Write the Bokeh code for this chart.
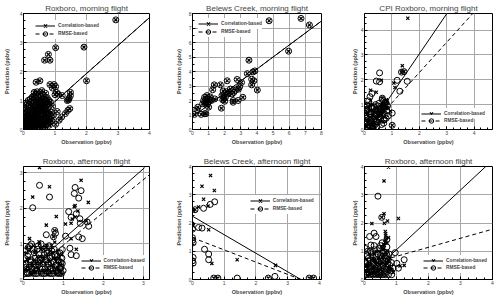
from bokeh.plotting import figure
from bokeh.layouts import column, row
from bokeh.models import Range1d, FixedTicker, Legend, LegendItem
from bokeh.embed import file_html
from bokeh.resources import INLINE

FONT = "Liberation Sans"

titles = ["Roxboro, morning flight", "Belews Creek, morning flight", "CPI Roxboro, morning flight",
          "Roxboro, afternoon flight", "Belews Creek, afternoon flight", "Roxboro, afternoon flight"]
x_label = "Observation (ppbv)"
y_label = "Prediction (ppbv)"
legend_labels = ["Correlation-based", "RMSE-based"]

# ---------- Panel 1: Roxboro, morning (both predictions coincide) ----------
p1_obs = [2.93, 1.02, 1.92, 0.79, 0.67, 0.84, 2.0, 0.40, 0.52, 0.97, 1.02, 0.92, 0.84, 1.49, 1.49, 1.45,
          1.39, 1.43, 1.23, 0.34, 0.58, 0.70, 0.62, 1.07, 1.41, 1.47, 1.33, 1.21, 1.13, 1.02, 1.05, 1.0, 1.10,
          0.02, 0.05, 0.08, 0.10, 0.12, 0.15, 0.18, 0.20, 0.22, 0.25, 0.28, 0.30, 0.32, 0.35, 0.38, 0.40,
          0.42, 0.45, 0.48, 0.50, 0.52, 0.55, 0.58, 0.60, 0.62, 0.65, 0.68, 0.70, 0.72, 0.75, 0.78, 0.80,
          0.82, 0.85, 0.88, 0.90, 0.05, 0.08, 0.10, 0.13, 0.16, 0.20, 0.24, 0.27, 0.33, 0.36, 0.40, 0.45,
          0.47, 0.53, 0.57, 0.63, 0.67, 0.73, 0.76, 0.12, 0.18, 0.25, 0.35, 0.42, 0.50, 0.55, 0.60, 0.70,
          0.03, 0.06, 0.15, 0.30, 0.38, 0.45, 0.60, 0.78, 0.85, 0.92, 0.95]
p1_pred = [3.78, 2.82, 2.84, 2.59, 2.39, 2.39, 1.68, 1.63, 1.68, 1.55, 1.48, 1.43, 1.55, 1.28, 1.17, 1.08,
           1.00, 1.02, 1.17, 1.28, 1.34, 1.25, 1.18, 0.62, 0.66, 0.72, 0.55, 0.43, 0.32, 0.18, 1.28, 1.20, 1.22,
           0.05, 0.12, 0.20, 0.08, 0.30, 0.15, 0.45, 0.10, 0.25, 0.60, 0.35, 0.12, 0.80, 0.50, 0.20, 0.95,
           0.65, 0.30, 0.10, 0.85, 0.50, 0.20, 1.05, 0.70, 0.35, 0.12, 0.90, 0.55, 0.25, 1.10, 0.75, 0.40,
           0.15, 0.95, 0.60, 0.30, 0.40, 0.70, 0.55, 0.90, 0.62, 0.75, 0.95, 0.15, 0.05, 0.30, 0.45, 0.72,
           1.00, 0.30, 0.80, 0.55, 0.30, 0.85, 0.50, 0.10, 0.05, 0.10, 0.08, 0.15, 0.05, 0.65, 0.95, 1.00,
           0.25, 0.85, 1.00, 1.10, 1.20, 1.15, 0.15, 0.20, 0.35, 0.80, 0.50]
p1_extra = [(0.01, 0.15), (0.04, 0.35), (0.07, 0.05), (0.09, 0.6), (0.11, 0.18), (0.14, 0.4), (0.17, 0.25),
            (0.19, 0.85), (0.21, 0.55), (0.23, 0.12), (0.26, 0.4), (0.29, 0.7), (0.31, 0.22), (0.34, 0.95),
            (0.37, 0.45), (0.39, 0.1), (0.41, 0.75), (0.44, 0.2), (0.46, 0.55), (0.49, 0.35), (0.51, 1.0),
            (0.54, 0.15), (0.56, 0.45), (0.59, 0.7), (0.61, 0.05), (0.64, 0.85), (0.66, 0.25), (0.69, 0.65),
            (0.71, 0.4), (0.74, 0.2), (0.77, 0.9), (0.79, 0.55), (0.81, 1.0), (0.84, 0.25), (0.87, 0.45),
            (0.02, 0.5), (0.06, 0.1), (0.11, 0.28), (0.16, 0.08), (0.21, 0.38), (0.26, 0.8), (0.31, 0.6),
            (0.36, 0.1), (0.41, 0.3), (0.46, 0.9), (0.51, 0.65), (0.56, 0.3), (0.61, 0.5), (0.66, 1.05),
            (0.71, 0.15), (0.04, 0.65), (0.14, 0.3), (0.24, 0.5), (0.34, 0.65), (0.44, 0.05), (0.54, 0.85),
            (0.64, 0.75), (0.74, 0.6), (0.28, 1.12), (0.43, 1.3), (0.5, 1.22), (0.22, 1.05)]
p1_corr_line_x = [0.0, 4.0]
p1_corr_line_y = [0.0, 3.86]
p1_rmse_line_x = [0.0, 4.0]
p1_rmse_line_y = [0.0, 3.86]

# ---------- Panel 2: Belews Creek, morning (both predictions coincide) ----------
p2_obs = [4.75, 6.73, 7.25, 5.96, 3.50, 3.40, 3.75, 3.87, 3.67, 3.81, 3.67, 4.02, 3.12, 2.77, 3.04, 2.92,
          2.85, 2.15, 1.35, 1.73, 1.25, 2.35, 2.25, 2.56, 2.67, 1.83, 2.04, 1.88, 2.00, 2.52, 2.83, 1.38,
          1.17, 0.90, 0.75, 0.90, 1.00, 0.69, 1.00, 0.63, 1.79, 0.33, 0.27, 0.54, 0.75, 0.83, 0.12, 2.52,
          2.10, 2.20, 1.95, 0.85, 1.10, 1.90, 2.45, 0.95, 0.80]
p2_pred = [7.50, 7.66, 7.21, 5.40, 4.78, 3.85, 3.97, 4.04, 3.47, 3.36, 3.08, 2.72, 2.22, 3.45, 3.24, 2.95,
           2.78, 3.36, 3.08, 3.08, 2.74, 2.79, 2.54, 2.56, 2.72, 2.34, 2.22, 2.04, 1.95, 2.00, 2.00, 2.11,
           2.00, 2.34, 2.22, 2.11, 2.05, 2.00, 1.54, 1.77, 1.47, 1.54, 1.36, 1.04, 1.09, 1.09, 1.04, 1.88,
           2.60, 2.45, 2.15, 1.90, 2.25, 2.65, 2.45, 1.80, 1.75]
p2_corr_line_x = [0.0, 8.0]
p2_corr_line_y = [0.87, 7.48]
p2_rmse_line_x = [0.0, 8.0]
p2_rmse_line_y = [0.87, 7.48]

# ---------- Panel 3: CPI Roxboro, morning ----------
p3_corr_obs = [1.58, 1.38, 1.35, 1.44, 0.61, 1.07, 1.11, 0.22, 0.43, 0.22, 0.65, 0.95, 1.01, 0.30,
               0.05, 0.10, 0.15, 0.20, 0.25, 0.30, 0.35, 0.40, 0.45, 0.50, 0.55, 0.60, 0.65, 0.70, 0.75,
               0.80, 0.85, 0.08, 0.18, 0.28, 0.38, 0.48, 0.58, 0.68, 0.78, 0.12, 0.22, 0.32, 0.42, 0.52,
               0.62, 0.72, 0.82]
p3_corr_pred = [4.48, 2.57, 2.31, 2.33, 1.98, 1.87, 1.69, 1.58, 1.50, 1.16, 1.26, 0.73, 0.17, 1.00,
                0.10, 0.30, 0.20, 0.50, 0.15, 0.40, 0.70, 0.25, 0.60, 0.90, 0.35, 1.00, 0.80, 1.10, 0.95,
                1.20, 1.05, 0.60, 0.05, 0.75, 0.10, 0.45, 0.65, 0.30, 0.85, 0.90, 1.00, 0.20, 0.85, 0.55,
                0.90, 0.50, 1.15]
p3_corr_extra = [(0.06, 0.4), (0.11, 0.65), (0.16, 0.35), (0.21, 0.8), (0.26, 0.3), (0.31, 0.55),
                 (0.36, 0.15), (0.41, 0.45), (0.46, 0.7), (0.51, 0.25), (0.56, 0.75), (0.61, 0.6),
                 (0.66, 1.0), (0.71, 0.75), (0.76, 1.05), (0.81, 0.9), (0.86, 0.85)]
p3_rmse_obs = [0.55, 0.43, 0.55, 1.35, 1.44, 1.56, 1.19, 1.29, 0.65, 0.10, 1.01, 1.01, 0.71, 0.20, 0.27,
               0.03, 0.07, 0.12, 0.17, 0.22, 0.27, 0.32, 0.37, 0.42, 0.47, 0.52, 0.57, 0.62, 0.67, 0.72,
               0.77, 0.82, 0.87, 0.10, 0.20, 0.30, 0.40, 0.50, 0.60, 0.70, 0.15, 0.25, 0.35, 0.45, 0.55,
               0.65, 0.75, 0.05]
p3_rmse_pred = [2.28, 1.95, 1.92, 2.31, 2.33, 1.94, 1.98, 1.54, 1.26, 0.98, 0.66, 0.17, 0.39, 1.32, 1.45,
                0.20, 0.45, 0.10, 0.70, 0.35, 0.90, 0.15, 0.55, 0.80, 0.30, 1.05, 0.65, 0.20, 0.95, 0.40,
                1.10, 0.75, 0.55, 0.95, 0.60, 0.05, 1.00, 0.50, 0.85, 0.25, 1.15, 0.30, 0.90, 0.10, 0.70,
                1.20, 0.60, 0.80]
p3_rmse_extra = [(0.04, 0.6), (0.09, 0.3), (0.14, 0.85), (0.19, 0.15), (0.24, 0.5), (0.29, 0.7),
                 (0.34, 0.4), (0.39, 0.2), (0.44, 0.65), (0.49, 0.95), (0.54, 0.45), (0.59, 0.8),
                 (0.64, 0.55), (0.69, 0.7), (0.74, 0.9), (0.79, 0.45), (0.84, 0.95), (0.02, 0.05),
                 (0.12, 0.05), (0.3, 0.08)]
p3_corr_line_x = [0.12, 3.0]
p3_corr_line_y = [0.0, 4.66]
p3_rmse_line_x = [0.12, 3.95]
p3_rmse_line_y = [0.0, 4.67]

# ---------- Panel 4: Roxboro, afternoon ----------
p4_corr_obs = [0.40, 0.65, 0.23, 1.44, 1.62, 1.29, 1.27, 1.36, 0.82, 1.29, 1.05, 1.19, 1.57, 0.57, 1.19,
               0.15, 1.32, 0.90, 0.39, 0.78, 0.75, 1.22,
               0.05, 0.10, 0.15, 0.20, 0.25, 0.30, 0.35, 0.40, 0.45, 0.50, 0.55, 0.60, 0.65, 0.70, 0.75,
               0.80, 0.85, 0.90, 0.95, 0.08, 0.18, 0.28, 0.38, 0.48, 0.58, 0.68, 0.78, 0.88, 0.12, 0.32,
               0.52, 0.72, 0.22, 0.42, 0.62, 0.82]
p4_corr_pred = [3.15, 2.61, 2.32, 2.79, 2.17, 2.08, 2.05, 1.93, 1.77, 1.76, 1.56, 1.58, 1.65, 1.53, 1.15,
                1.15, 0.85, 0.70, 1.06, 1.38, 1.20, 1.70,
                0.30, 0.55, 0.80, 0.40, 0.95, 0.20, 0.65, 1.00, 0.45, 0.85, 0.25, 0.70, 0.50, 0.95, 0.35,
                0.60, 0.80, 0.45, 0.70, 0.90, 0.15, 0.75, 0.30, 0.55, 0.95, 0.20, 1.05, 0.30, 0.60, 0.45,
                0.20, 0.75, 0.15, 0.15, 0.15, 0.15]
p4_corr_extra = [(0.03, 0.5), (0.07, 0.75), (0.11, 0.35), (0.14, 0.6), (0.18, 0.9), (0.21, 0.45),
                 (0.24, 0.25), (0.27, 0.55), (0.31, 0.8), (0.34, 0.35), (0.37, 0.5), (0.41, 0.65),
                 (0.44, 0.85), (0.47, 0.25), (0.51, 0.6), (0.54, 0.45), (0.57, 0.9), (0.61, 0.3),
                 (0.64, 0.55), (0.67, 0.8), (0.71, 0.4), (0.74, 0.6), (0.77, 0.25), (0.81, 0.5),
                 (0.84, 0.35), (0.87, 0.6), (0.91, 0.2), (0.94, 0.4), (0.97, 0.15), (0.60, 0.15)]
p4_rmse_obs = [0.40, 0.65, 0.23, 1.29, 1.44, 1.27, 1.38, 1.13, 1.32, 1.19, 1.41, 1.42, 1.59, 1.63, 0.57,
               0.78, 0.80, 0.75, 1.05, 1.38, 1.47, 1.16, 0.97, 1.19, 1.32, 0.94, 0.90,
               0.02, 0.07, 0.12, 0.17, 0.22, 0.27, 0.32, 0.37, 0.42, 0.47, 0.52, 0.57, 0.62, 0.67, 0.72,
               0.77, 0.82, 0.87, 0.92, 0.97, 0.05, 0.15, 0.25, 0.35, 0.45, 0.55, 0.65, 0.75, 0.85, 0.95,
               0.10, 0.30, 0.50, 0.70, 0.90]
p4_rmse_pred = [2.65, 2.32, 2.02, 2.59, 2.50, 2.42, 2.29, 1.91, 1.85, 1.75, 1.71, 1.58, 1.62, 1.50, 1.26,
                1.38, 1.30, 1.20, 1.22, 1.20, 1.15, 0.88, 0.84, 0.70, 0.67, 0.48, 0.32,
                0.60, 0.35, 0.90, 0.50, 0.25, 0.75, 0.40, 0.95, 0.55, 0.30, 0.70, 0.90, 0.45, 0.30, 0.65,
                0.85, 0.25, 0.55, 0.30, 0.45, 0.17, 0.17, 0.17, 0.17, 0.17, 0.17, 0.17, 0.17, 0.17, 0.17,
                0.17, 0.17, 0.17, 0.17, 0.17]
p4_rmse_extra = [(0.03, 0.8), (0.06, 0.45), (0.09, 0.2), (0.11, 0.65), (0.14, 0.35), (0.16, 0.95),
                 (0.19, 0.55), (0.21, 0.3), (0.24, 0.85), (0.26, 0.45), (0.29, 0.6), (0.31, 0.25),
                 (0.34, 0.85), (0.36, 0.5), (0.39, 0.7), (0.41, 0.3), (0.44, 1.0), (0.46, 0.6),
                 (0.49, 0.45), (0.51, 0.85), (0.54, 0.3), (0.56, 0.55), (0.59, 0.75), (0.61, 0.35),
                 (0.64, 0.95), (0.66, 0.6), (0.69, 0.45), (0.71, 0.8), (0.74, 0.25), (0.76, 0.5),
                 (0.79, 0.7), (0.81, 0.4), (0.84, 0.65), (0.86, 0.2), (0.89, 0.5), (0.91, 0.75),
                 (0.94, 0.35), (0.96, 0.6), (0.99, 0.25), (0.20, 1.0)]
p4_corr_line_x = [0.0, 3.03]
p4_corr_line_y = [0.15, 3.15]
p4_rmse_line_x = [0.0, 3.15]
p4_rmse_line_y = [0.05, 2.95]

# ---------- Panel 5: Belews Creek, afternoon ----------
p5_corr_obs = [0.57, 0.30, 0.69, 0.35, 0.49, 0.19, 0.08, 0.02, 0.00, 0.51, 0.61, 1.41, 2.62, 2.39, 0.67,
               0.80, 3.68, 3.82, 0.02]
p5_corr_pred = [3.68, 3.30, 3.15, 2.84, 2.60, 2.57, 2.47, 2.45, 1.98, 1.76, 0.57, 0.70, 0.50, 0.05, 0.05,
                0.05, 0.05, 0.05, 1.90]
p5_rmse_obs = [0.70, 0.56, 0.35, 0.08, 0.19, 0.30, 0.00, 0.00, 0.00, 0.02, 0.38, 0.51, 0.51, 0.02, 0.00,
               0.02, 2.60, 1.41, 2.39, 0.67, 0.80, 3.68, 3.82]
p5_rmse_pred = [2.75, 2.66, 2.52, 2.47, 1.84, 1.82, 1.78, 1.48, 1.39, 1.30, 1.07, 0.90, 0.70, 0.78, 0.66,
                0.58, 0.11, 0.05, 0.05, 0.05, 0.05, 0.05, 0.05]
p5_corr_line_x = [0.0, 3.42]
p5_corr_line_y = [2.24, 0.0]
p5_rmse_line_x = [0.0, 3.42]
p5_rmse_line_y = [1.48, 0.0]

# ---------- Panel 6: Roxboro, afternoon ----------
p6_corr_obs = [0.75, 0.61, 0.54, 0.61, 1.06, 0.62, 0.72, 0.23, 0.65, 0.66, 0.66, 0.68, 0.75, 1.11, 1.24,
               0.70, 0.60,
               0.05, 0.10, 0.15, 0.20, 0.25, 0.30, 0.35, 0.40, 0.45, 0.50, 0.55, 0.60, 0.65, 0.70, 0.75,
               0.80, 0.08, 0.18, 0.28, 0.38, 0.48, 0.58, 0.68, 0.12, 0.32, 0.52, 0.72, 0.85, 0.90]
p6_corr_pred = [3.98, 3.49, 2.20, 2.33, 2.16, 1.99, 2.07, 1.98, 1.70, 1.62, 1.55, 1.45, 1.48, 0.48, 0.50,
                1.30, 1.25,
                0.30, 0.50, 0.20, 0.70, 0.40, 0.90, 0.25, 0.60, 1.00, 0.35, 0.80, 1.10, 0.50, 0.90, 0.70,
                0.45, 0.15, 0.15, 0.15, 0.15, 0.15, 0.15, 0.15, 0.55, 0.65, 0.60, 0.30, 0.35, 0.25]
p6_corr_extra = [(0.04, 0.45), (0.08, 0.7), (0.12, 0.3), (0.16, 0.9), (0.20, 0.5), (0.24, 0.25),
                 (0.28, 0.75), (0.32, 0.4), (0.36, 1.0), (0.40, 0.3), (0.44, 0.75), (0.48, 0.5),
                 (0.52, 1.15), (0.56, 0.3), (0.60, 0.9), (0.64, 1.3), (0.66, 1.4), (0.68, 0.6),
                 (0.72, 1.0), (0.76, 0.35), (0.80, 0.75), (0.62, 1.2), (0.58, 1.05)]
p6_rmse_obs = [0.42, 0.54, 0.30, 0.36, 0.16, 0.20, 0.02, 0.70, 0.96, 1.24, 1.01, 1.06, 0.55, 0.50,
               0.02, 0.07, 0.12, 0.17, 0.22, 0.27, 0.32, 0.37, 0.42, 0.47, 0.52, 0.57, 0.62, 0.67, 0.72,
               0.77, 0.82, 0.05, 0.15, 0.25, 0.35, 0.45, 0.55, 0.65, 0.75, 0.85, 0.10, 0.30, 0.50, 0.70]
p6_rmse_pred = [2.95, 2.20, 1.64, 1.52, 1.52, 1.22, 1.10, 1.41, 0.95, 0.70, 0.57, 0.40, 1.30, 1.20,
                0.45, 0.25, 0.75, 0.40, 0.95, 0.60, 0.35, 0.80, 0.50, 0.25, 0.65, 0.95, 0.40, 0.75, 0.55,
                0.90, 0.30, 0.17, 0.17, 0.17, 0.17, 0.17, 0.17, 0.17, 0.17, 0.17, 1.00, 1.20, 0.85, 1.15]
p6_rmse_extra = [(0.03, 0.6), (0.06, 0.35), (0.09, 0.85), (0.12, 0.5), (0.14, 0.25), (0.17, 0.7),
                 (0.19, 1.0), (0.22, 0.45), (0.24, 0.3), (0.27, 0.8), (0.29, 0.55), (0.32, 1.05),
                 (0.34, 0.4), (0.37, 0.65), (0.39, 0.25), (0.42, 0.9), (0.44, 0.6), (0.47, 1.1),
                 (0.49, 0.45), (0.52, 0.3), (0.54, 0.8), (0.57, 0.5), (0.59, 1.0), (0.62, 0.3),
                 (0.64, 0.65), (0.67, 0.45), (0.69, 0.9), (0.72, 0.35), (0.74, 0.7), (0.79, 0.5),
                 (0.84, 0.6), (0.89, 0.4)]
p6_corr_line_x = [0.0, 3.79]
p6_corr_line_y = [0.0, 4.0]
p6_rmse_line_x = [0.0, 4.0]
p6_rmse_line_y = [0.5, 1.78]

x_max = [4.0, 8.0, 4.67, 3.15, 4.07, 4.0]
y_max = [4.0, 8.0, 4.67, 3.18, 4.0, 4.0]
major_ticks = [[0, 1, 2, 3, 4], [0, 1, 2, 3, 4, 5, 6, 7, 8], [0, 1, 2, 3, 4], [0, 1, 2, 3], [0, 1, 2, 3, 4],
               [0, 1, 2, 3, 4]]


def join(xs, ys, extra=()):
    return list(xs) + [a for a, b in extra], list(ys) + [b for a, b in extra]


def make_panel(i, corr, rmse, clx, cly, rlx, rly, w, h, bl, br, bt, bb, ylab_standoff, leg_x, leg_yc, leg_yr):
    p = figure(width=w, height=h, x_range=Range1d(0, x_max[i]), y_range=Range1d(0, y_max[i]),
               output_backend="svg", toolbar_location=None, title=titles[i],
               min_border_left=bl, min_border_right=br, min_border_top=bt, min_border_bottom=bb)
    p.title.text_font = FONT
    p.title.text_font_size = "8px"
    p.title.text_font_style = "normal"
    p.title.align = "center"
    p.title.standoff = 2
    p.title.offset = 0
    p.outline_line_color = "black"
    p.outline_line_width = 1
    p.background_fill_color = "white"
    step = 0.5 if x_max[i] > 5 else 0.25
    minors = [k * step for k in range(int(x_max[i] / step) + 1)]
    for ax, lab in ((p.xaxis[0], x_label), (p.yaxis[0], y_label)):
        ax.ticker = FixedTicker(ticks=major_ticks[i], minor_ticks=minors)
        ax.axis_label = lab
        ax.axis_label_text_font = FONT
        ax.axis_label_text_font_size = "5.5px"
        ax.axis_label_text_font_style = "bold"
        ax.major_label_text_font = FONT
        ax.major_label_text_font_size = "5px"
        ax.major_label_standoff = 1
        ax.major_tick_in = 3
        ax.major_tick_out = 0
        ax.minor_tick_in = 2
        ax.minor_tick_out = 0
        ax.axis_line_color = "black"
        ax.major_tick_line_color = "black"
        ax.minor_tick_line_color = "black"
    p.xaxis[0].axis_label_standoff = 1
    p.yaxis[0].axis_label_standoff = ylab_standoff
    for g in (p.xgrid[0], p.ygrid[0]):
        g.grid_line_color = "#a8a8a8"
        g.grid_line_width = 1

    l_corr = p.line(clx, cly, line_color="black", line_width=1)
    l_rmse = p.line(rlx, rly, line_color="black", line_width=1, line_dash="4 3")
    s_rmse = p.scatter(rmse[0], rmse[1], marker="circle", size=6, fill_color=None, line_color="black",
                       line_width=1)
    s_corr = p.scatter(corr[0], corr[1], marker="x", size=4.5, line_color="black", line_width=1.2)

    for label, rends, ly in ((legend_labels[0], [l_corr, s_corr], leg_yc),
                             (legend_labels[1], [l_rmse, s_rmse], leg_yr)):
        leg = Legend(items=[LegendItem(label=label, renderers=rends)], location=(leg_x, ly))
        leg.margin = 0
        leg.padding = 0
        leg.spacing = 0
        leg.glyph_width = 20
        leg.glyph_height = 11
        leg.label_height = 7
        leg.label_width = 10
        leg.label_standoff = 3
        leg.label_text_font = FONT
        leg.label_text_font_size = "4.8px"
        leg.label_text_font_style = "bold"
        leg.border_line_color = None
        leg.background_fill_color = "white"
        leg.background_fill_alpha = 1.0
        p.add_layout(leg, "center")
    return p


col_w = [170, 165, 165]
col_bl = [21, 22, 29]
col_br = [21, 14, 8]
col_ylab = [7, 4, 0]
row_h = [148, 149]
row_bt = [12, 18]
row_bb = [19, 15]

f1 = make_panel(0, join(p1_obs, p1_pred, p1_extra), join(p1_obs, p1_pred, p1_extra),
                p1_corr_line_x, p1_corr_line_y, p1_rmse_line_x, p1_rmse_line_y,
                col_w[0], row_h[0], col_bl[0], col_br[0], row_bt[0], row_bb[0], col_ylab[0], 12, 98, 90.5)
f2 = make_panel(1, (p2_obs, p2_pred), (p2_obs, p2_pred),
                p2_corr_line_x, p2_corr_line_y, p2_rmse_line_x, p2_rmse_line_y,
                col_w[1], row_h[0], col_bl[1], col_br[1], row_bt[0], row_bb[0], col_ylab[1], 6, 100, 92.5)
f3 = make_panel(2, join(p3_corr_obs, p3_corr_pred, p3_corr_extra), join(p3_rmse_obs, p3_rmse_pred, p3_rmse_extra),
                p3_corr_line_x, p3_corr_line_y, p3_rmse_line_x, p3_rmse_line_y,
                col_w[2], row_h[0], col_bl[2], col_br[2], row_bt[0], row_bb[0], col_ylab[2], 57, 10.5, 3.2)
f4 = make_panel(3, join(p4_corr_obs, p4_corr_pred, p4_corr_extra), join(p4_rmse_obs, p4_rmse_pred, p4_rmse_extra),
                p4_corr_line_x, p4_corr_line_y, p4_rmse_line_x, p4_rmse_line_y,
                col_w[0], row_h[1], col_bl[0], col_br[0], row_bt[1], row_bb[1], col_ylab[0], 57.6, 13.5, 6.1)
f5 = make_panel(4, (p5_corr_obs, p5_corr_pred), (p5_rmse_obs, p5_rmse_pred),
                p5_corr_line_x, p5_corr_line_y, p5_rmse_line_x, p5_rmse_line_y,
                col_w[1], row_h[1], col_bl[1], col_br[1], row_bt[1], row_bb[1], col_ylab[1], 57.7, 72.8, 65.5)
f6 = make_panel(5, join(p6_corr_obs, p6_corr_pred, p6_corr_extra), join(p6_rmse_obs, p6_rmse_pred, p6_rmse_extra),
                p6_corr_line_x, p6_corr_line_y, p6_rmse_line_x, p6_rmse_line_y,
                col_w[2], row_h[1], col_bl[2], col_br[2], row_bt[1], row_bb[1], col_ylab[2], 59, 13.1, 6.1)

layout = column(row(f1, f2, f3), row(f4, f5, f6))
open("out.html", "w").write(file_html(layout, INLINE))
